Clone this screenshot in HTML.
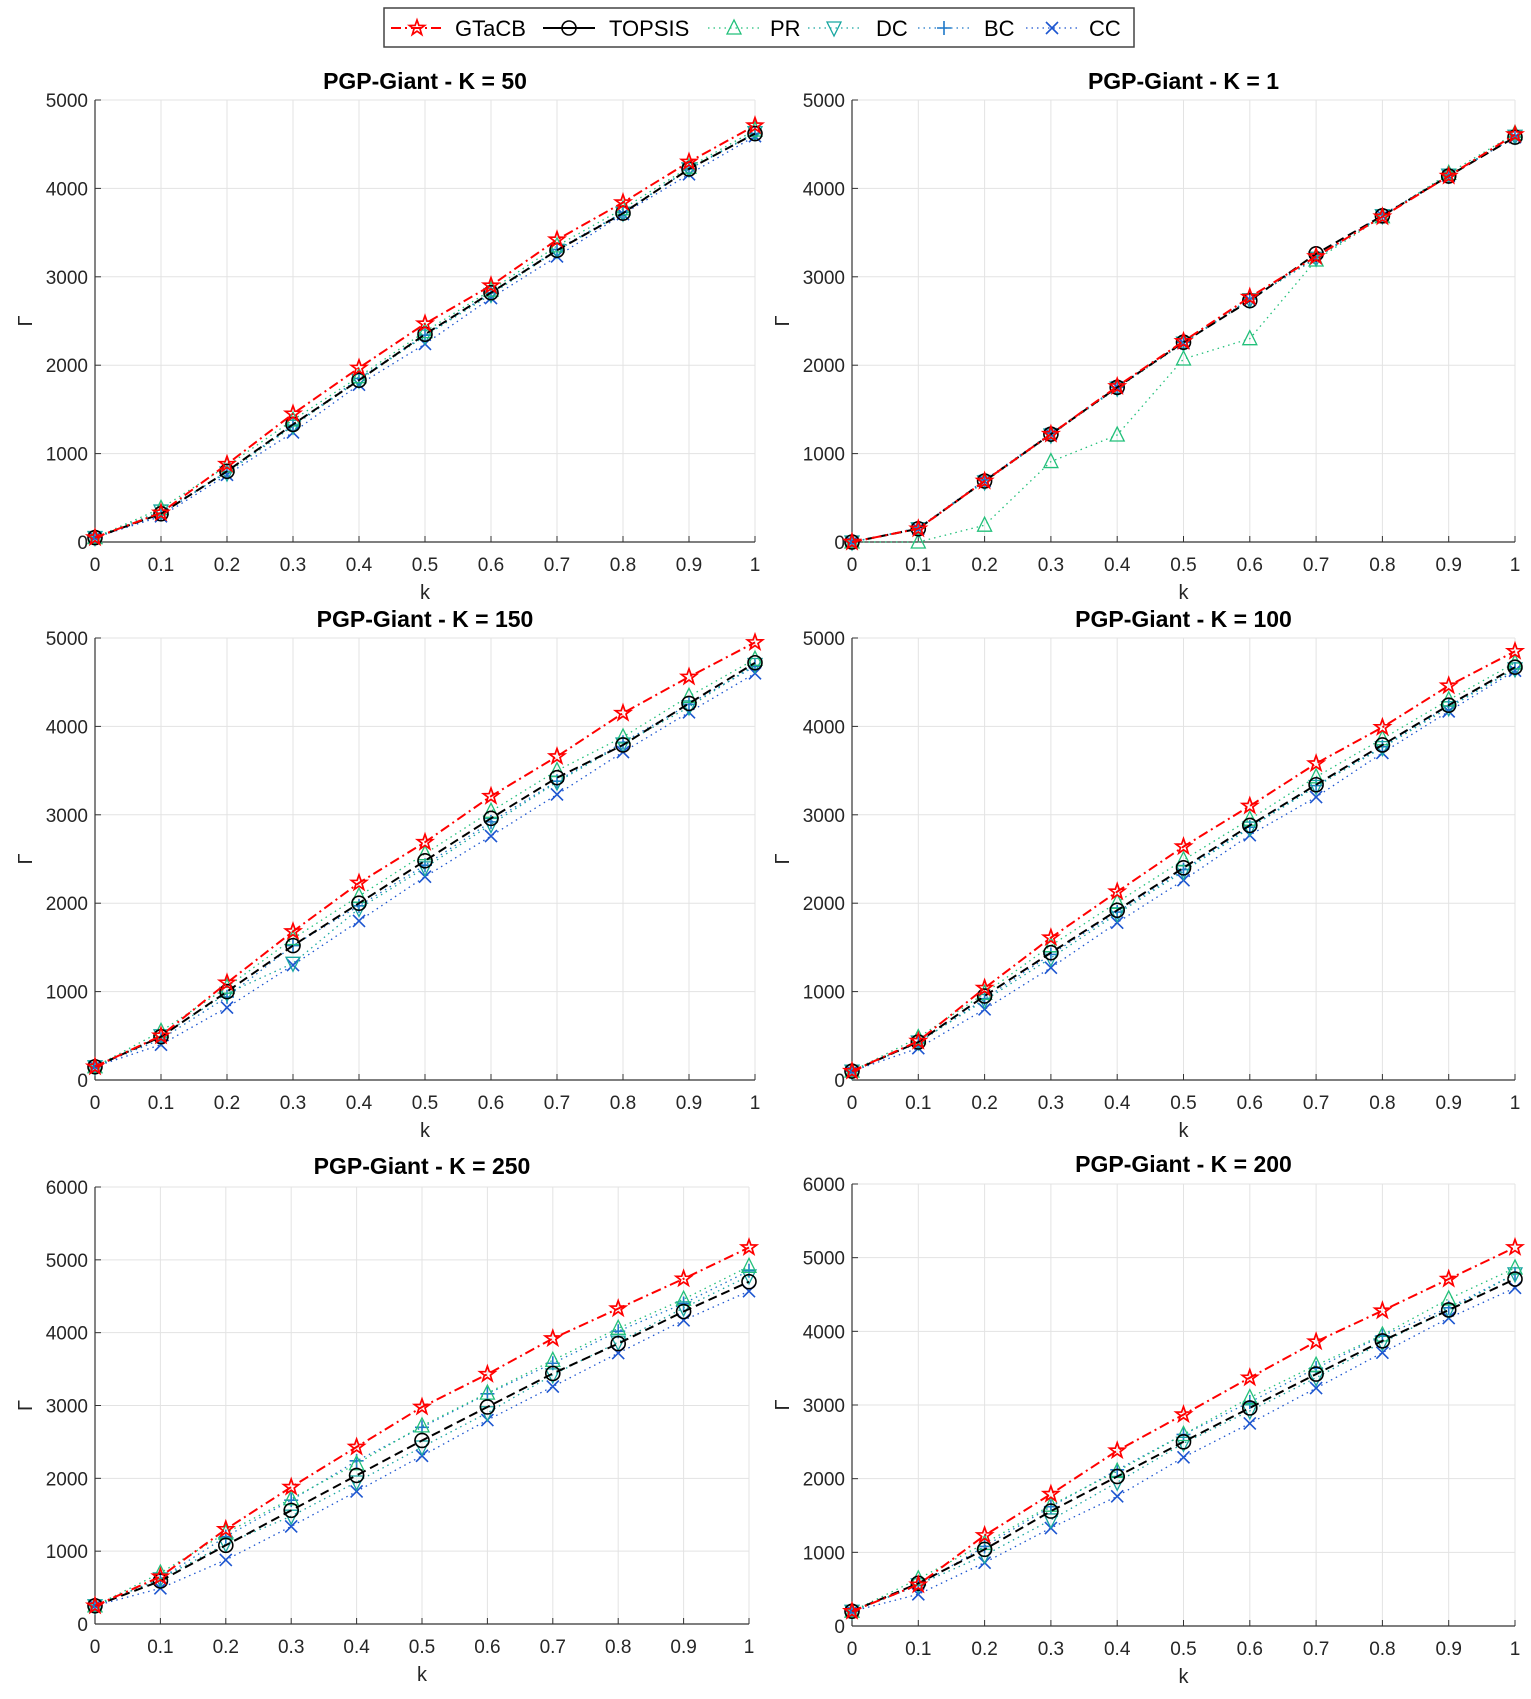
<!DOCTYPE html>
<html><head><meta charset="utf-8"><style>
body{margin:0;background:#fff;}
svg{display:block;font-family:"Liberation Sans",Arial,sans-serif;}
</style></head><body>
<svg id="fig" width="1531" height="1699" viewBox="0 0 1531 1699" xmlns="http://www.w3.org/2000/svg">
<g id="legend">
<rect x="384" y="8" width="750" height="39" fill="#fff" stroke="#444" stroke-width="1.5"/>
</g>
</svg>
<script>
const kVals=[0,0.1,0.2,0.3,0.4,0.5,0.6,0.7,0.8,0.9,1];
const xTickLabels=["0","0.1","0.2","0.3","0.4","0.5","0.6","0.7","0.8","0.9","1"];
const seriesNames=["GTaCB","TOPSIS","PR","DC","BC","CC"];
// K=50
const k50_GTaCB=[50,330,880,1450,1970,2470,2900,3420,3840,4300,4710];
const k50_TOPSIS=[50,320,800,1330,1830,2350,2820,3300,3720,4220,4620];
const k50_PR=[50,380,860,1380,1870,2380,2850,3350,3770,4240,4660];
const k50_DC=[50,350,780,1310,1830,2330,2800,3300,3720,4220,4630];
const k50_BC=[50,310,800,1320,1850,2340,2820,3310,3730,4220,4620];
const k50_CC=[50,290,760,1240,1780,2240,2760,3230,3710,4160,4590];
// K=1
const k1_GTaCB=[0,150,690,1220,1760,2270,2770,3230,3680,4140,4610];
const k1_TOPSIS=[0,150,690,1220,1750,2260,2730,3260,3690,4140,4580];
const k1_PR=[0,0,190,910,1210,2070,2300,3190,3680,4170,4620];
const k1_DC=[0,150,680,1210,1740,2250,2740,3210,3690,4150,4590];
const k1_BC=[0,160,700,1230,1750,2260,2750,3220,3700,4150,4580];
const k1_CC=[0,150,690,1220,1750,2250,2740,3210,3690,4140,4580];
// K=150
const k150_GTaCB=[150,500,1100,1680,2230,2690,3210,3660,4150,4560,4950];
const k150_TOPSIS=[150,490,1000,1520,2000,2480,2960,3420,3790,4260,4720];
const k150_PR=[150,550,1050,1600,2080,2560,3040,3500,3880,4340,4760];
const k150_DC=[150,500,980,1320,1940,2400,2890,3370,3800,4220,4700];
const k150_BC=[150,460,940,1520,1970,2430,2920,3380,3820,4250,4680];
const k150_CC=[150,400,820,1300,1800,2300,2760,3230,3710,4160,4600];
// K=100
const k100_GTaCB=[100,440,1040,1610,2130,2640,3100,3580,3990,4460,4850];
const k100_TOPSIS=[100,430,950,1440,1920,2400,2880,3340,3790,4240,4670];
const k100_PR=[100,480,980,1520,2010,2490,2950,3430,3860,4300,4720];
const k100_DC=[100,430,900,1380,1880,2360,2850,3320,3760,4210,4650];
const k100_BC=[100,420,920,1420,1900,2380,2860,3330,3770,4230,4650];
const k100_CC=[100,360,800,1270,1780,2260,2770,3200,3700,4170,4630];
// K=250
const k250_GTaCB=[250,650,1300,1880,2430,2980,3430,3920,4330,4740,5170];
const k250_TOPSIS=[250,590,1080,1560,2040,2520,2980,3440,3850,4290,4700];
const k250_PR=[250,700,1250,1720,2200,2720,3170,3620,4060,4460,4910];
const k250_DC=[250,620,1100,1480,1950,2430,2900,3420,3870,4340,4780];
const k250_BC=[250,620,1200,1700,2240,2700,3160,3580,4020,4400,4850];
const k250_CC=[250,490,880,1340,1820,2310,2800,3260,3720,4170,4570];
// K=200
const k200_GTaCB=[200,560,1230,1790,2380,2870,3370,3860,4280,4710,5140];
const k200_TOPSIS=[200,580,1040,1560,2030,2500,2960,3420,3870,4290,4710];
const k200_PR=[200,640,1120,1640,2100,2600,3100,3540,3950,4440,4860];
const k200_DC=[200,560,960,1440,1950,2480,2920,3370,3850,4290,4780];
const k200_BC=[200,550,1080,1620,2120,2600,3040,3500,3940,4320,4780];
const k200_CC=[200,430,860,1330,1760,2290,2750,3230,3710,4180,4590];
const yTicks5000=[0,1000,2000,3000,4000,5000];
const yTicks6000=[0,1000,2000,3000,4000,5000,6000];

const NS="http://www.w3.org/2000/svg";
const svg=document.getElementById('fig');
function mk(tag,attrs,parent){const e=document.createElementNS(NS,tag);for(const k in attrs)e.setAttribute(k,attrs[k]);(parent||svg).appendChild(e);return e;}
const styles={
 GTaCB:{c:"#ff0000",dash:"10,4,2,4",m:"star"},
 TOPSIS:{c:"#000000",dash:"9,5",m:"circle"},
 PR:{c:"#22c07a",dash:"1.5,4",m:"tri"},
 DC:{c:"#17a6a0",dash:"1.5,4",m:"tridown"},
 BC:{c:"#1e78c8",dash:"1.5,4",m:"plus"},
 CC:{c:"#1c55d0",dash:"1.5,4",m:"x"}
};
function marker(g,type,x,y,c){
 const s=7;
 if(type==="star"){let p=[];for(let i=0;i<10;i++){const r=i%2?3.2:8;const a=-Math.PI/2+i*Math.PI/5;p.push((x+r*Math.cos(a)).toFixed(1)+","+(y+r*Math.sin(a)).toFixed(1));}
  return mk('polygon',{points:p.join(' '),fill:"none",stroke:c,"stroke-width":1.7},g);}
 if(type==="circle")return mk('circle',{cx:x,cy:y,r:s,fill:"none",stroke:c,"stroke-width":1.6},g);
 if(type==="tri")return mk('polygon',{points:`${x},${y-s-1} ${x-s},${y+s-1} ${x+s},${y+s-1}`,fill:"none",stroke:c,"stroke-width":1.3},g);
 if(type==="tridown")return mk('polygon',{points:`${x},${y+s+1} ${x-s},${y-s+1} ${x+s},${y-s+1}`,fill:"none",stroke:c,"stroke-width":1.3},g);
 if(type==="plus")return mk('path',{d:`M${x-s} ${y}H${x+s}M${x} ${y-s}V${y+s}`,stroke:c,"stroke-width":1.6},g);
 if(type==="x")return mk('path',{d:`M${x-6} ${y-6}L${x+6} ${y+6}M${x+6} ${y-6}L${x-6} ${y+6}`,stroke:c,"stroke-width":1.6},g);
}
function drawChart(name,title,x0,x1,yTop,yBot,ymax,yTicks,data,titleY){
 const g=mk('g',{});
 
 
 const X=v=>x0+(x1-x0)*v;
 const Y=v=>yBot-(yBot-yTop)*v/ymax;
 kVals.forEach(v=>{mk('line',{x1:X(v),x2:X(v),y1:yTop,y2:yBot,stroke:"#e3e3e3","stroke-width":1},g);});
 yTicks.forEach(v=>{mk('line',{x1:x0,x2:x1,y1:Y(v),y2:Y(v),stroke:"#e3e3e3","stroke-width":1},g);});
 mk('line',{x1:x0,x2:x0,y1:yTop,y2:yBot,stroke:"#333","stroke-width":1.2},g);
 mk('line',{x1:x0,x2:x1,y1:yBot,y2:yBot,stroke:"#333","stroke-width":1.2},g);
 kVals.forEach((v,i)=>{mk('line',{x1:X(v),x2:X(v),y1:yBot,y2:yBot-6,stroke:"#333"},g);
  const t=mk('text',{x:X(v),y:yBot+29,"text-anchor":"middle","font-size":19,fill:"#262626"},g);t.textContent=xTickLabels[i];
  
  });
 yTicks.forEach(v=>{mk('line',{x1:x0,x2:x0+6,y1:Y(v),y2:Y(v),stroke:"#333"},g);
  const t=mk('text',{x:x0-7,y:Y(v)+7,"text-anchor":"end","font-size":19,fill:"#262626"},g);t.textContent=String(v);
  
  });
 const tt=mk('text',{x:(x0+x1)/2,y:titleY,"text-anchor":"middle","font-size":23,"font-weight":"bold",fill:"#000"},g);tt.textContent=title;
 
 
 const xl=mk('text',{x:(x0+x1)/2,y:yBot+57,"text-anchor":"middle","font-size":20,fill:"#262626"},g);xl.textContent="k";
 
 
 const yl=mk('text',{x:0,y:0,"text-anchor":"middle","font-size":20,fill:"#262626",transform:`translate(${x0-63},${(yTop+yBot)/2}) rotate(-90)`},g);yl.textContent="Γ";
 
 
 const order=["CC","BC","DC","PR","TOPSIS","GTaCB"];
 order.forEach(sn=>{
  const st=styles[sn];const vals=data[sn];
  const sg=mk('g',{},g);
  
  
  const pts=vals.map((v,i)=>X(kVals[i]).toFixed(1)+","+Y(v).toFixed(1)).join(' ');
  const pl=mk('polyline',{points:pts,fill:"none",stroke:st.c,"stroke-width":sn==="GTaCB"||sn==="TOPSIS"?2:1.3,"stroke-dasharray":st.dash},sg);
  
  
  vals.forEach((v,i)=>{const m=marker(sg,st.m,X(kVals[i]),Y(v),st.c);
   
   });
 });
}
drawChart('chart-k50','PGP-Giant - K = 50',95,755,100,542,5000,yTicks5000,{GTaCB:k50_GTaCB,TOPSIS:k50_TOPSIS,PR:k50_PR,DC:k50_DC,BC:k50_BC,CC:k50_CC},89);
drawChart('chart-k1','PGP-Giant - K = 1',852,1515,100,542,5000,yTicks5000,{GTaCB:k1_GTaCB,TOPSIS:k1_TOPSIS,PR:k1_PR,DC:k1_DC,BC:k1_BC,CC:k1_CC},89);
drawChart('chart-k150','PGP-Giant - K = 150',95,755,638,1080,5000,yTicks5000,{GTaCB:k150_GTaCB,TOPSIS:k150_TOPSIS,PR:k150_PR,DC:k150_DC,BC:k150_BC,CC:k150_CC},627);
drawChart('chart-k100','PGP-Giant - K = 100',852,1515,638,1080,5000,yTicks5000,{GTaCB:k100_GTaCB,TOPSIS:k100_TOPSIS,PR:k100_PR,DC:k100_DC,BC:k100_BC,CC:k100_CC},627);
drawChart('chart-k250','PGP-Giant - K = 250',95,749,1187,1624,6000,yTicks6000,{GTaCB:k250_GTaCB,TOPSIS:k250_TOPSIS,PR:k250_PR,DC:k250_DC,BC:k250_BC,CC:k250_CC},1174);
drawChart('chart-k200','PGP-Giant - K = 200',852,1515,1184,1626,6000,yTicks6000,{GTaCB:k200_GTaCB,TOPSIS:k200_TOPSIS,PR:k200_PR,DC:k200_DC,BC:k200_BC,CC:k200_CC},1172);

const lg=document.getElementById('legend');
const legLineX=[391,543,708,808,918,1026];
const legTextX=[455,609,770,876,984,1089];
seriesNames.forEach((sn,i)=>{
 const st=styles[sn];const g=mk('g',{},lg);
 
 
 mk('line',{x1:legLineX[i],x2:legLineX[i]+52,y1:28,y2:28,stroke:st.c,"stroke-width":sn==="GTaCB"||sn==="TOPSIS"?2:1.3,"stroke-dasharray":sn==="TOPSIS"?"none":st.dash},g);
 marker(g,st.m,legLineX[i]+26,28,st.c);
 const t=mk('text',{x:legTextX[i],y:36,"font-size":22,fill:"#000"},g);t.textContent=sn;
});
</script>
</body></html>
